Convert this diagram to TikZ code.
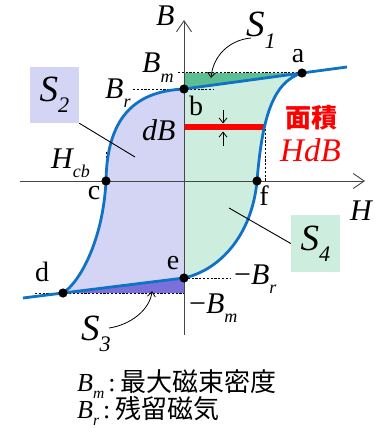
\documentclass[tikz,border=0pt]{standalone}
\usepackage{fontspec}
\setmainfont{Liberation Serif}
\newfontfamily\cjk{Noto Sans CJK JP}
\usetikzlibrary{arrows.meta}
\definecolor{curveblue}{RGB}{16,114,196}
\definecolor{lgreen}{RGB}{205,238,222}
\definecolor{dgreen}{RGB}{92,190,146}
\definecolor{lpurple}{RGB}{212,212,244}
\definecolor{dpurple}{RGB}{122,112,220}
\definecolor{axisgray}{RGB}{70,70,70}
\newcommand\sbx[2]{#1\raisebox{-0.3em}{\scalebox{0.6}{#2}}}
\begin{document}
\begin{tikzpicture}[x=1pt,y=-1pt,
  dashln/.style={dash pattern=on 2.2pt off 1.6pt, line width=0.8pt},
  loopcurve/.style={draw=curveblue, line width=2.8pt, line join=round},
  axisln/.style={draw=axisgray, line width=0.9pt, -{Straight Barb[length=11pt,width=15pt,line width=0.9pt]}},
  smallarr/.style={line width=0.8pt, -{Straight Barb[length=5pt,width=8pt,line width=0.8pt]}},
  leader/.style={line width=0.9pt},
  mlbl/.style={inner sep=0pt, anchor=base west, font=\fontsize{30}{30}\selectfont\itshape},
  slbl/.style={inner sep=0pt, font=\fontsize{37}{37}\selectfont\itshape},
  ptlbl/.style={inner sep=0pt, font=\fontsize{28}{28}\selectfont},
  lg/.style={inner sep=0pt, anchor=base west, font=\fontsize{26}{26}\selectfont}]
\useasboundingbox (0,0) rectangle (389,428);

% key points
\coordinate (a) at (302,73);
\coordinate (b) at (184,89);
\coordinate (c) at (106,181);
\coordinate (d) at (63,293);
\coordinate (e) at (184,278);
\coordinate (f) at (257,181);
\coordinate (bm) at (184,73);
\coordinate (nbm) at (184,293);
\coordinate (atail) at (347,67);
\coordinate (dtail) at (23,298);

% fills
\fill[lgreen] (b) -- (a) .. controls (272,82) and (262,120) .. (f)
   .. controls (252,235) and (220,270) .. (e) -- cycle;
\fill[dgreen] (bm) -- (a) -- (b) -- cycle;
\fill[lpurple] (b) .. controls (140,91) and (107,112) .. (c)
   .. controls (103,240) and (80,282) .. (d) -- (e) -- cycle;
\fill[dpurple] (d) -- (e) -- (nbm) -- cycle;

% axes
\coordinate (yb) at (184,335);
\coordinate (yt) at (184,20);
\coordinate (xl) at (20,181);
\coordinate (xr) at (365,181);
\draw[axisln] (yb) -- (yt);
\draw[axisln] (xl) -- (xr);

% dashed guides
\coordinate (bmL) at (178,72);
\coordinate (bmR) at (302,72);
\draw[dashln] (bmL) -- (bmR);
\coordinate (brL) at (133,89);
\coordinate (brR) at (213,89);
\draw[dashln] (brL) -- (brR);
\coordinate (hcT) at (106,151);
\draw[dashln] (c) -- (hcT);
\coordinate (hdT) at (265,129);
\coordinate (hdB) at (265,181);
\draw[dashln] (hdT) -- (hdB);
\coordinate (nbrR) at (230,278);
\draw[dashln] (e) -- (nbrR);
\coordinate (nbmL) at (35,293);
\draw[dashln] (nbmL) -- (nbm);

% red strip
\coordinate (rL) at (185,127);
\coordinate (rR) at (265,127);
\draw[red, line width=5.5pt] (rL) -- (rR);

% dB arrows
\coordinate (dbt1) at (223,110);
\coordinate (dbt2) at (223,123.5);
\coordinate (dbb1) at (223,146);
\coordinate (dbb2) at (223,131.5);
\draw[smallarr] (dbt1) -- (dbt2);
\draw[smallarr] (dbb1) -- (dbb2);

% hysteresis loop
\draw[loopcurve] (dtail) -- (d) -- (e) .. controls (220,270) and (252,235) .. (f)
   .. controls (262,120) and (272,82) .. (a) -- (atail);
\draw[loopcurve] (a) -- (b) .. controls (140,91) and (107,112) .. (c)
   .. controls (103,240) and (80,282) .. (d);

% dots
\foreach \p in {a,b,c,d,e,f} \fill (\p) circle (4.6);

% point labels
\node[ptlbl] (la) at (298,56) {a};
\node[ptlbl] (lb) at (196,106) {b};
\node[ptlbl] (lc) at (94,193) {c};
\node[ptlbl] (ld) at (42,272) {d};
\node[ptlbl] (le) at (173,263) {e};
\node[ptlbl] (lf) at (264,196) {f};

% axis labels
\node[mlbl] (Blbl) at (156,26) {B};
\node[mlbl] (Hlbl) at (350,220) {H};

% value labels
\node[mlbl] (Bm) at (142,73) {\sbx{B}{m}};
\node[mlbl] (Br) at (105,98) {\sbx{B}{r}};
\node[mlbl] (Hcb) at (51,168) {\sbx{H}{cb}};
\node[mlbl] (dB) at (142,140) {dB};
\node[mlbl] (nBr) at (234,284) {\textup{−}\sbx{B}{r}};
\node[mlbl] (nBm) at (189,313) {\textup{−}\sbx{B}{m}};

% area label
\node[inner sep=0pt, text=red, font=\fontsize{26}{26}\selectfont\cjk\bfseries] (menseki) at (311,118) {面積};
\node[mlbl, text=red, font=\fontsize{33}{33}\selectfont\itshape] (HdBlbl) at (280,161) {HdB};

% S labels
\node[slbl, fill=lpurple, minimum width=49pt, minimum height=56pt] (S2) at (54.5,95) {\sbx{S}{2}};
\coordinate (s2p) at (135,157);
\draw[leader] (S2.south east) -- (s2p);
\node[slbl, fill=lgreen, minimum width=49pt, minimum height=57pt] (S4) at (315.5,243.5) {\sbx{S}{4}};
\coordinate (s4p) at (229,208);
\draw[leader] (S4.west) -- (s4p);

\node[slbl, anchor=base west] (S1) at (246,37) {\sbx{S}{1}};
\coordinate (s1s) at (251,38);
\coordinate (s1e) at (211,78);
\draw[smallarr] (s1s) .. controls (229,40) and (213,56) .. (s1e);

\node[slbl, anchor=base west] (S3) at (81,340) {\sbx{S}{3}};
\coordinate (s3s) at (109,328);
\coordinate (s3e) at (152,291);
\draw[smallarr] (s3s) .. controls (130,325) and (150,310) .. (s3e);

% legend
\node[lg] (leg1) at (77,391) {\sbx{\textit{B}}{\textit{m}}\hspace{4pt}:\hspace{5pt}{\cjk 最大磁束密度}};
\node[lg] (leg2) at (77,418) {\sbx{\textit{B}}{\textit{r}}\hspace{4pt}:\hspace{5pt}{\cjk 残留磁気}};
\end{tikzpicture}
\end{document}
